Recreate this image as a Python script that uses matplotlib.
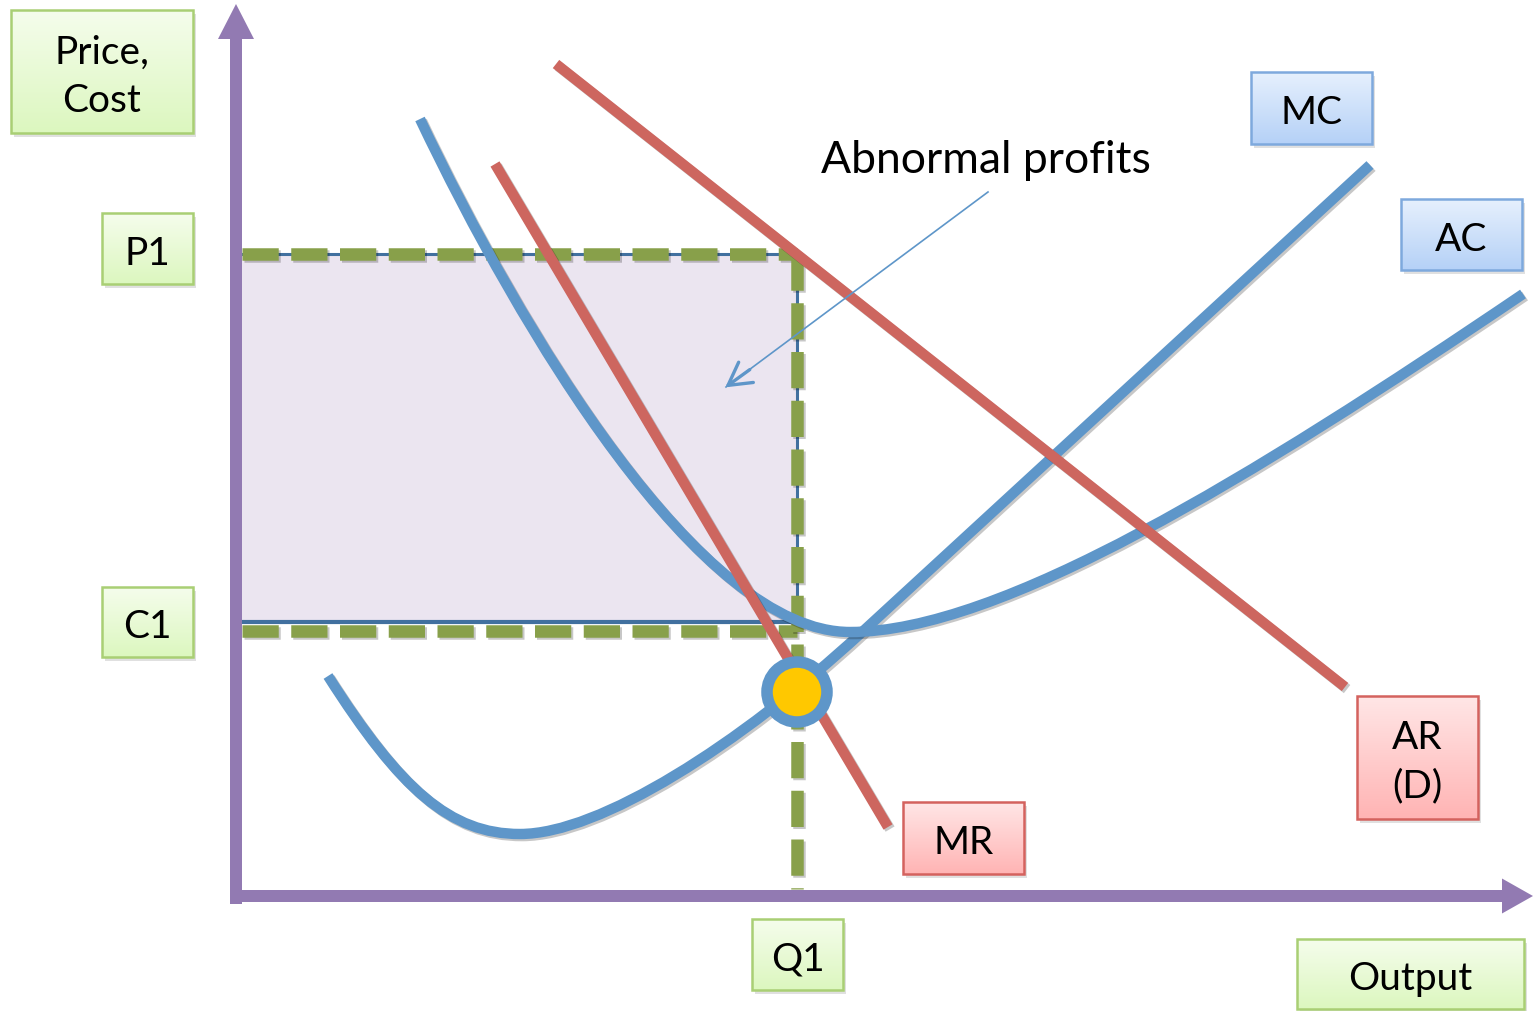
import matplotlib
matplotlib.use("Agg")
import numpy as np
import matplotlib.pyplot as plt
from matplotlib.path import Path
from matplotlib.patches import PathPatch, Rectangle, Circle, FancyArrowPatch
import matplotlib.patheffects as pe

# positions (pixel units, y grows downwards)
p1_level = 255
c1_level = 623
c1_dash_level = 632
q1_level = 797
axis_x0 = 236
axis_y0 = 897

ar_x = [556, 1345]
ar_y = [65, 688]
mr_x = [495, 888]
mr_y = [165, 828]

# bezier control points for the cost curves
mc_pts = [(328, 677), (400, 790), (450, 835), (520, 835),
          (600, 835), (740, 745), (860, 635), (1370, 166)]
mc_codes = [Path.MOVETO, Path.CURVE4, Path.CURVE4, Path.CURVE4,
            Path.CURVE4, Path.CURVE4, Path.CURVE4, Path.LINETO]
ac_pts = [(420, 120), (520, 330), (700, 633), (850, 633),
          (1000, 633), (1250, 480), (1523, 295)]
ac_codes = [Path.MOVETO, Path.CURVE4, Path.CURVE4, Path.CURVE4,
            Path.CURVE4, Path.CURVE4, Path.CURVE4]

eq_point = (797, 693)

# label boxes: (left, top, right, bottom, text, colour scheme)
labels = [
    (11, 11, 193, 134, "Price,\nCost", "green"),
    (102, 214, 193, 285, "P1", "green"),
    (102, 588, 193, 658, "C1", "green"),
    (752, 920, 843, 991, "Q1", "green"),
    (1297, 940, 1524, 1010, "Output", "green"),
    (1251, 73, 1372, 145, "MC", "blue"),
    (1401, 200, 1522, 271, "AC", "blue"),
    (1357, 697, 1478, 820, "AR\n(D)", "red"),
    (903, 803, 1024, 875, "MR", "red"),
]

schemes = {
    "green": ("#f5fdec", "#dcf7bf", "#a9cf74"),
    "blue": ("#e6f0fd", "#b5d1f7", "#7ea9dd"),
    "red": ("#ffe6e6", "#ffb4b4", "#d4625e"),
}

purple = "#927ab2"
blue = "#5e96c9"
red = "#cd665f"
green = "#88a04a"
font = ["Lato", "DejaVu Sans"]

shadow = [pe.SimpleLineShadow(offset=(1.5, -1.5), alpha=0.22, shadow_color="k"), pe.Normal()]

fig = plt.figure(figsize=(15.33, 10.12), dpi=100)
ax = fig.add_axes([0, 0, 1, 1])
ax.set_axis_off()

# profit rectangle
ax.add_patch(Rectangle((242, p1_level), q1_level - 242, c1_level - p1_level,
                       facecolor="#ebe5f0", edgecolor="none", zorder=1))
ax.plot([242, q1_level, q1_level], [p1_level, p1_level, c1_level],
        color="#41709f", lw=2.2, zorder=2)
ax.plot([242, q1_level], [c1_level, c1_level], color="#41709f", lw=3, zorder=2)

# dashed guide lines
dash = dict(color=green, lw=9, dashes=(2.9, 1.0), solid_capstyle="butt",
            dash_capstyle="butt", zorder=3, path_effects=shadow)
ax.plot([242, q1_level], [p1_level, p1_level], **dash)
ax.plot([242, q1_level], [c1_dash_level, c1_dash_level], **dash)
ax.plot([q1_level, q1_level], [p1_level, 890], **dash)

# cost curves
for pts, codes in [(mc_pts, mc_codes), (ac_pts, ac_codes)]:
    ax.add_patch(PathPatch(Path(pts, codes), facecolor="none", edgecolor=blue,
                           lw=7.5, capstyle="butt", zorder=4, path_effects=shadow))

# revenue lines
ax.plot(ar_x, ar_y, color=red, lw=7.5, solid_capstyle="butt", zorder=5, path_effects=shadow)
ax.plot(mr_x, mr_y, color=red, lw=7.5, solid_capstyle="butt", zorder=5, path_effects=shadow)

# equilibrium point
ax.add_patch(Circle(eq_point, 30, facecolor="#ffc800", edgecolor=blue, lw=8.3, zorder=6,
                    path_effects=[pe.withSimplePatchShadow(offset=(2, -2), alpha=0.25)]))

# axes arrows
ax.arrow(axis_x0, 905, 0, -900, width=12, head_width=36, head_length=35,
         length_includes_head=True, color=purple, zorder=7, lw=0)
ax.arrow(230, axis_y0, 1303, 0, width=12, head_width=35, head_length=31,
         length_includes_head=True, color=purple, zorder=7, lw=0)

# abnormal profits annotation
ax.text(986, 160, "Abnormal profits", family=font, fontsize=32, ha="center", va="center", zorder=8)
ax.plot([988, 726], [193, 388], color=blue, lw=1.2, zorder=8)
ax.add_patch(FancyArrowPatch((752, 369), (723, 390), arrowstyle="->,head_length=0.8,head_width=0.45",
                             mutation_scale=20, color=blue, lw=2.4, zorder=8))

# label boxes with gradient fill
for x0, y0, x1, y1, txt, sch in labels:
    top, bottom, edge = schemes[sch]
    c0 = np.array(matplotlib.colors.to_rgb(top))
    c1 = np.array(matplotlib.colors.to_rgb(bottom))
    t = np.linspace(0, 1, 64)[:, None, None]
    grad = c0 * (1 - t) + c1 * t
    ax.add_patch(Rectangle((x0 + 3, y0 + 4), x1 - x0, y1 - y0, facecolor="k",
                           alpha=0.12, edgecolor="none", zorder=8))
    ax.imshow(grad, extent=(x0, x1, y1, y0), aspect="auto", interpolation="bilinear", zorder=9)
    ax.add_patch(Rectangle((x0, y0), x1 - x0, y1 - y0, facecolor="none",
                           edgecolor=edge, lw=1.8, zorder=10))
    ax.text((x0 + x1) / 2, (y0 + y1) / 2 + 4, txt, family=font, fontsize=28, ha="center",
            va="center", linespacing=1.42, zorder=11)

ax.set_xlim(0, 1533)
ax.set_ylim(1012, 0)
fig.savefig("out.png", dpi=100)
